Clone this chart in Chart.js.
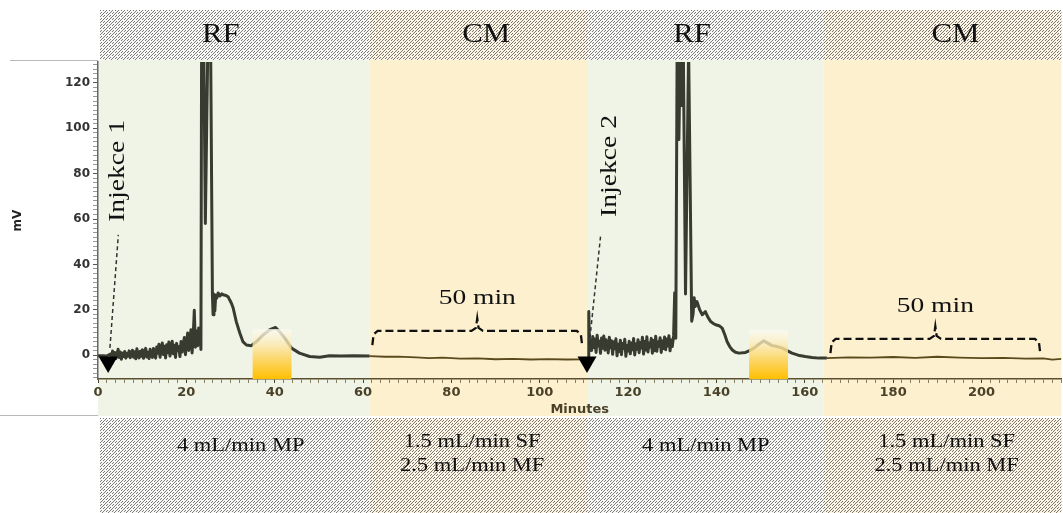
<!DOCTYPE html>
<html>
<head>
<meta charset="utf-8">
<script src="https://cdn.jsdelivr.net/npm/chart.js@4.4.1/dist/chart.umd.min.js"></script>
<style>
  html, body { margin: 0; padding: 0; background: #fff; overflow: hidden; }
  canvas { display: block; }
</style>
</head>
<body>
<canvas id="chart" width="1063" height="513"></canvas>
<script>
// phases across the time axis (minutes)
const phaseNames = ["RF", "CM", "RF", "CM"];
const phaseBounds = [0, 61.5, 110.7, 164.3, 218.1];
const phaseLabelMin = [27.8, 87.9, 134.5, 194.1];
const flowLines = [["4 mL/min MP"], ["1.5 mL/min SF", "2.5 mL/min MF"], ["4 mL/min MP"], ["1.5 mL/min SF", "2.5 mL/min MF"]];
const flowLabelMin = [32.3, 84.7, 137.6, 192.1];

const xTickLabels = [0, 20, 40, 60, 80, 100, 120, 140, 160, 180, 200];
const yTickLabels = [0, 20, 40, 60, 80, 100, 120];

// injections
const injectionMin = [2.3, 110.7];
const injectionMarkMv = -3.0;
const injectionText = ["Injekce 1", "Injekce 2"];
const injectionTextAt = [[4.5, 81.2], [115.9, 83.4]];
const arrowFrom = [[2.7, 3.2], [111.2, 4.5]];
const arrowTo = [[4.6, 53], [113.8, 53]];

// collected fractions (yellow boxes)
const fractionFrom = [35.0, 147.4];
const fractionTo = [43.8, 156.2];
const fractionTopMv = [11.5, 11.0];

// "50 min" brackets
const bracketStart = [62.1, 165.8];
const bracketEnd = [109.6, 213.3];
const bracketLevel = [10.7, 7.2];
const bracketText = "50 min";

// detector trace, run 1
const noiseStep = 0.25;
const run1Start = [[0, -0.3], [1.0, -0.2], [2.0, -0.4], [2.5, 0.2]];
const run1NoiseFrom = 2.8;
const run1NoiseMv = [
  0.5, -1.2, 1.8, -0.8, 1.2, -1.5, 0.4, 2.6, -1.0, 1.4, -1.8, 0.9, -0.6, 1.6, -1.3, 0.8, -0.4,
  1.9, -1.1, 0.6, 2.2, -0.9, 1.5, -1.6, 2.8, 0.2, -1.2, 1.7, -0.5, 2.4, -1.4, 0.9, 3.0, -0.8, 1.3, -1.5, 2.6, 0.1, -1.0, 2.9, 0.4,
  -1.3, 3.6, 0.8, 4.8, -0.9, 2.7, 5.4, 0.3, 3.9, -1.2, 4.6, 1.1, 5.8, -0.4, 3.2, 6.1, 0.6, 4.4, -1.0, 5.2, 2.0, 3.7, -0.6, 6.0,
  1.4, 4.9, 7.8, 0.2, 5.6, 9.8, 2.1, 6.9, 11.2, 1.0, 8.4, 19.8, 3.5, 10.6, 4.2, 12.0
];
const run1Peak = [
  [23.05, 9.5], [23.3, 2.5], [23.45, 135], [23.95, 135], [24.3, 58], [24.85, 135], [25.5, 135],
  [25.9, 26.5], [26.05, 17.8], [26.25, 26.8], [26.45, 19.5], [26.65, 26.4], [26.9, 25.2], [27.2, 27.4],
  [27.6, 26.1], [28.0, 27.0], [28.5, 26.5], [29.0, 26.3], [29.5, 25.6], [29.8, 24.4], [30.2, 22.9],
  [30.6, 20.8], [31.3, 14.8], [32.1, 9.8], [32.8, 6.0], [33.6, 4.5], [34.7, 4.2], [35.9, 6.0],
  [37.4, 9.0], [38.9, 11.2], [40.2, 12.2], [41.1, 10.4], [42.3, 7.5], [43.8, 3.1], [45.6, 0.9],
  [47.9, -0.6], [50.2, -0.9], [52.4, -0.3]
];
const run1Tail = [
  [55, -0.4], [58, -0.2], [61.5, -0.4], [65, -0.7], [68, -0.6], [72, -1.0], [75, -1.3], [78, -1.1],
  [82, -1.5], [86, -1.4], [90, -1.8], [94, -1.6], [98, -1.9], [102, -1.7], [106, -1.9], [109.6, -1.8]
];

// detector trace, run 2
const run2Start = [[110.7, -1.6], [111.0, -1.2], [111.1, 19.2], [111.3, 2.0]];
const run2NoiseFrom = 111.5;
const run2NoiseMv = [
  6.5, 2.1, 8.2, 3.4, 7.1, 1.2, 8.8, 4.0, 6.2, 0.8, 7.6, 3.1, 8.4, 2.2, 6.8, 4.6, 1.0, 7.9, 3.3,
  6.4, 0.4, 5.9, 2.8, 7.2, -0.3, 4.8, 1.6, 6.6, 0.2, 5.1, 3.0, 7.0, -0.5, 4.3, 1.8, 6.1, 0.6, 5.4, 2.4, 7.3, 0.1, 4.9, 2.6,
  6.8, 1.1, 5.6, 3.2, 7.9, 0.5, 6.0, 2.3, 8.1, 1.4, 5.3, 3.6, 7.4, 0.9, 6.5, 2.0, 8.3, 1.7, 5.8, 3.9, 7.7, 1.2, 6.3, 2.9,
  8.0, 2.4, 7.1, 4.0, 8.6, 1.9, 6.7, 3.8
];
const run2Peak = [
  [130.3, 8.5], [130.55, 27.5], [130.8, 7.5], [131.1, 135], [131.5, 95], [131.8, 135], [132.2, 110], [132.5, 135], [133.0, 27],
  [133.7, 135], [134.4, 15], [134.7, 18], [134.95, 25.3], [135.2, 21.5], [135.6, 23.6], [136.2, 20],
  [136.8, 17.8], [137.5, 19.2], [138.0, 17.0], [138.7, 14.8], [139.3, 14.0], [139.8, 13.4], [140.6, 13.0],
  [141.3, 11.9], [141.9, 9.0], [142.4, 6.0], [143.0, 3.8], [143.6, 2.3], [144.3, 1.3], [145.1, 0.9],
  [146.6, 1.2], [147.5, 2.0], [148.5, 3.1], [149.6, 4.8], [150.7, 6.3], [151.6, 5.3], [152.6, 4.2],
  [153.7, 3.8], [154.9, 3.1], [156.0, 2.0], [157.1, 0.9], [158.5, 0.0], [160.1, -0.6], [161.6, -1.0], [163.2, -1.3]
];
const run2Tail = [
  [165, -1.3], [170, -1.0], [175, -1.1], [180, -0.8], [185, -1.2], [190, -0.7], [195, -1.1],
  [200, -1.3], [205, -1.2], [210, -1.5], [214, -1.4], [216, -2.0], [218.1, -1.6]
];

const X_MIN = 0, X_MAX = 218.1, Y_MIN = -10.5, Y_MAX = 129.2;

const pairs = a => a.map(([x, y]) => ({ x, y }));
const noisePoints = (from, mv) => mv.map((y, i) => ({ x: +(from + i * noiseStep).toFixed(2), y }));

const signal = [
  ...pairs(run1Start), ...noisePoints(run1NoiseFrom, run1NoiseMv), ...pairs(run1Peak), ...pairs(run1Tail),
  ...pairs(run2Start), ...noisePoints(run2NoiseFrom, run2NoiseMv), ...pairs(run2Peak), ...pairs(run2Tail)
];

function inCM(x) {
  return (x >= phaseBounds[1] && x < phaseBounds[2]) || x >= phaseBounds[3];
}

// bracket shape built from start / end / level
function bracketPoints(i) {
  const s = bracketStart[i], e = bracketEnd[i], L = bracketLevel[i], m = (s + e) / 2;
  return [
    { x: s, y: L - 6.3 }, { x: s + 0.3, y: L - 1.5 }, { x: s + 1.2, y: L },
    { x: m - 1.3, y: L }, { x: m - 0.3, y: L + 1.3 }, { x: m, y: L + 5.5 },
    { x: m + 0.3, y: L + 1.3 }, { x: m + 1.3, y: L },
    { x: e - 1.2, y: L }, { x: e - 0.3, y: L - 1.5 }, { x: e, y: L - 6.3 }
  ];
}

function hatch(ctx, base, ink) {
  const c = document.createElement("canvas");
  c.width = 6; c.height = 6;
  const g = c.getContext("2d");
  g.fillStyle = base; g.fillRect(0, 0, 6, 6);
  g.fillStyle = ink;
  for (let x = 0; x < 6; x++) {
    for (let y = 0; y < 6; y++) {
      if ((x + y) % 3 === 2 && (x - y + 12) % 6 !== 1) g.fillRect(x, y, 1, 1);
    }
  }
  return ctx.createPattern(c, "repeat");
}

function serifText(ctx, text, x, y, size, stretch, rot) {
  ctx.save();
  ctx.translate(x, y);
  ctx.rotate(rot || 0);
  ctx.scale(stretch, 1);
  ctx.font = size + 'px "Liberation Serif", "Times New Roman", serif';
  ctx.fillStyle = "#111";
  ctx.textAlign = "center";
  ctx.textBaseline = "middle";
  ctx.fillText(text, 0, 0);
  ctx.restore();
}

const decorPlugin = {
  id: "decor",
  beforeDraw(chart) {
    const { ctx, chartArea: ca, scales: { x } } = chart;
    ctx.save();
    ctx.fillStyle = "#fff";
    ctx.fillRect(0, 0, chart.width, chart.height);
    const rfHatch = hatch(ctx, "#f8f8f7", "#7a7a7a");
    const cmHatch = hatch(ctx, "#faf5ea", "#807560");
    for (let i = 0; i < phaseNames.length; i++) {
      const x0 = i === 0 ? ca.left + 2 : x.getPixelForValue(phaseBounds[i]);
      const x1 = x.getPixelForValue(phaseBounds[i + 1]);
      ctx.fillStyle = phaseNames[i] === "RF" ? rfHatch : cmHatch;
      ctx.fillRect(x0, 10, x1 - x0, 50);
      ctx.fillRect(x0, 418, x1 - x0, chart.height - 418);
      ctx.fillStyle = phaseNames[i] === "RF" ? "#f0f4e7" : "#fdf0cf";
      ctx.fillRect(x0 - (i === 0 ? 2 : 0), 60, x1 - x0 + (i === 0 ? 2 : 0), 356);
    }
    ctx.strokeStyle = "#b8b8b8";
    ctx.lineWidth = 1;
    ctx.beginPath();
    ctx.moveTo(10, 60.5); ctx.lineTo(ca.left, 60.5);
    ctx.moveTo(0, 415.5); ctx.lineTo(ca.left, 415.5);
    ctx.stroke();
    ctx.restore();
  },
  afterDatasetsDraw(chart) {
    const { ctx, scales: { x, y } } = chart;
    ctx.save();
    for (let i = 0; i < fractionFrom.length; i++) {
      const x0 = x.getPixelForValue(fractionFrom[i]);
      const x1 = x.getPixelForValue(fractionTo[i]);
      const y0 = y.getPixelForValue(fractionTopMv[i]);
      const y1 = y.getPixelForValue(Y_MIN);
      const g = ctx.createLinearGradient(0, y0, 0, y1);
      g.addColorStop(0, "rgba(250,250,242,0.85)");
      g.addColorStop(0.2, "rgba(252,240,200,0.75)");
      g.addColorStop(0.6, "rgba(253,212,95,0.92)");
      g.addColorStop(1, "#ffbf00");
      ctx.fillStyle = g;
      ctx.fillRect(x0, y0, x1 - x0, y1 - y0);
    }
    ctx.restore();
  },
  afterDraw(chart) {
    const { ctx, scales: { x, y } } = chart;
    for (let i = 0; i < phaseNames.length; i++) {
      serifText(ctx, phaseNames[i], x.getPixelForValue(phaseLabelMin[i]), 35, 28, 1.1);
      const lines = flowLines[i];
      const fx = x.getPixelForValue(flowLabelMin[i]);
      if (lines.length === 1) {
        serifText(ctx, lines[0], fx, 446, 18, 1.25);
      } else {
        serifText(ctx, lines[0], fx, 442, 18, 1.25);
        serifText(ctx, lines[1], fx, 466, 18, 1.25);
      }
    }
    for (let i = 0; i < injectionText.length; i++) {
      const [tx, ty] = injectionTextAt[i];
      serifText(ctx, injectionText[i], x.getPixelForValue(tx), y.getPixelForValue(ty), 23, 1.2, -Math.PI / 2);
    }
    for (let i = 0; i < bracketStart.length; i++) {
      const m = (bracketStart[i] + bracketEnd[i]) / 2;
      serifText(ctx, bracketText, x.getPixelForValue(m), y.getPixelForValue(bracketLevel[i] + 14.5), 22, 1.25);
    }
  }
};

const datasets = [
  {
    label: "injection",
    data: injectionMin.map(t => ({ x: t, y: injectionMarkMv })),
    showLine: false,
    pointStyle: "triangle",
    rotation: 180,
    pointRadius: 11,
    pointBackgroundColor: "#000",
    pointBorderColor: "#000",
    pointBorderWidth: 0,
    order: -2
  },
  {
    label: "signal",
    data: signal,
    borderColor: "#393c30",
    borderWidth: 3,
    pointRadius: 0,
    tension: 0,
    borderJoinStyle: "round",
    segment: {
      borderColor: c => inCM(c.p0.parsed.x) ? "#5a4a1c" : "#383b2f",
      borderWidth: c => inCM(c.p0.parsed.x) ? 1.8 : 3
    },
    order: 0
  }
];

for (let i = 0; i < arrowFrom.length; i++) {
  datasets.push({
    label: "arrow" + i,
    data: [{ x: arrowFrom[i][0], y: arrowFrom[i][1] }, { x: arrowTo[i][0], y: arrowTo[i][1] }],
    borderColor: "#333",
    borderWidth: 1.5,
    borderDash: [4, 3],
    pointRadius: 0,
    order: -1
  });
}
for (let i = 0; i < bracketStart.length; i++) {
  datasets.push({
    label: "bracket" + i,
    data: bracketPoints(i),
    borderColor: "#111",
    borderWidth: 2.3,
    borderDash: [8, 4],
    pointRadius: 0,
    tension: 0,
    order: -1
  });
}

new Chart(document.getElementById("chart"), {
  type: "line",
  data: { datasets },
  options: {
    responsive: false,
    animation: false,
    devicePixelRatio: 1,
    layout: { autoPadding: false, padding: { top: 62, bottom: 96, left: 0, right: 0 } },
    plugins: { legend: { display: false }, tooltip: { enabled: false } },
    scales: {
      x: {
        type: "linear",
        min: X_MIN,
        max: X_MAX,
        afterFit: s => { s.height = 38; },
        border: { display: true, color: "#5a5030", width: 1.5 },
        grid: {
          drawOnChartArea: false,
          drawTicks: true,
          tickLength: 4,
          tickColor: c => xTickLabels.includes(c.tick.value) ? "#4a4228" : "#8a8060"
        },
        ticks: {
          stepSize: 2,
          includeBounds: false,
          autoSkip: false,
          maxRotation: 0,
          padding: 2,
          color: "#4a4228",
          font: { family: '"DejaVu Sans", sans-serif', size: 13, weight: "bold" },
          callback: v => xTickLabels.includes(v) ? String(v) : ""
        },
        title: {
          display: true,
          text: "Minutes",
          color: "#4a4228",
          padding: { top: 0, bottom: 0 },
          font: { family: '"DejaVu Sans", sans-serif', size: 13, weight: "bold" }
        }
      },
      y: {
        type: "linear",
        min: Y_MIN,
        max: Y_MAX,
        afterFit: s => { s.width = 98; },
        border: { display: true, color: "#666", width: 1.5 },
        grid: {
          drawOnChartArea: false,
          drawTicks: true,
          tickLength: 5,
          tickColor: c => yTickLabels.includes(c.tick.value) ? "#555" : "#999"
        },
        ticks: {
          stepSize: 2,
          includeBounds: false,
          autoSkip: false,
          padding: 3,
          color: "#333",
          font: { family: '"DejaVu Sans", sans-serif', size: 12, weight: "bold" },
          callback: v => yTickLabels.includes(v) ? String(v) : ""
        },
        title: {
          display: true,
          text: "mV",
          color: "#222",
          padding: { top: 11, bottom: 0 },
          font: { family: '"DejaVu Sans", sans-serif', size: 12, weight: "bold" }
        }
      }
    }
  },
  plugins: [decorPlugin]
});
</script>
</body>
</html>
